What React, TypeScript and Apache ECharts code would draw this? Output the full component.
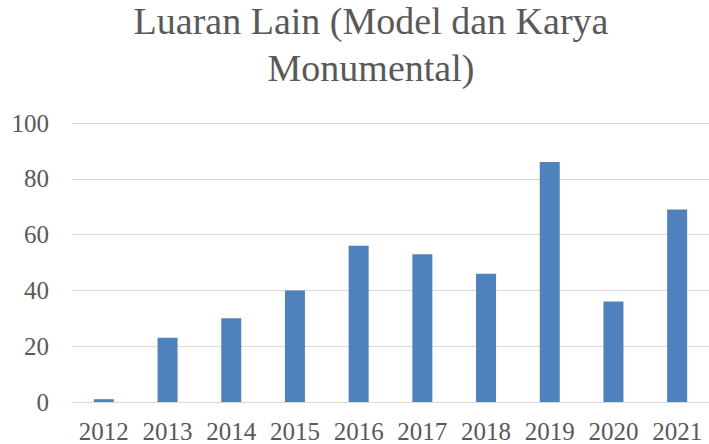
import React, { useEffect, useRef } from "react";
import * as echarts from "echarts";

const categories = ["2012", "2013", "2014", "2015", "2016", "2017", "2018", "2019", "2020", "2021"];
const values = [1, 23, 30, 40, 56, 53, 46, 86, 36, 69];
const titleText = "Luaran Lain (Model dan Karya\nMonumental)";
const yTicks = { min: 0, max: 100, interval: 20 };

const FONT = "'Liberation Serif', 'DejaVu Serif', serif";

export default function App() {
  const ref = useRef<HTMLDivElement>(null);
  useEffect(() => {
    const chart = echarts.init(ref.current!, null, { renderer: "svg" });
    chart.setOption({
      animation: false,
      backgroundColor: "#ffffff",
      title: {
        text: titleText,
        left: 371,
        textAlign: "center",
        top: -3,
        padding: 0,
        textStyle: {
          fontFamily: FONT,
          fontSize: 38,
          lineHeight: 47,
          fontWeight: "normal",
          color: "#595959",
        },
      },
      grid: { left: 72, right: -5, top: 123, bottom: 42, containLabel: false },
      xAxis: {
        type: "category",
        data: categories,
        axisLine: { show: true, lineStyle: { color: "#D9D9D9", width: 1 } },
        axisTick: { show: false },
        axisLabel: {
          interval: 0,
          hideOverlap: false,
          fontFamily: FONT,
          fontSize: 25,
          color: "#595959",
          margin: 17,
        },
      },
      yAxis: {
        type: "value",
        min: yTicks.min,
        max: yTicks.max,
        interval: yTicks.interval,
        axisLine: { show: false },
        axisTick: { show: false },
        splitLine: { lineStyle: { color: "#D9D9D9", width: 1 } },
        axisLabel: { fontFamily: FONT, fontSize: 25, color: "#595959", margin: 23 },
      },
      series: [
        {
          type: "bar",
          data: values,
          barWidth: 20,
          itemStyle: { color: "#4F81BD" },
        },
      ],
    });
    return () => chart.dispose();
  }, []);
  return (
    <div
      ref={ref}
      style={{ position: "fixed", left: 0, top: 0, width: 709, height: 444 }}
    />
  );
}
